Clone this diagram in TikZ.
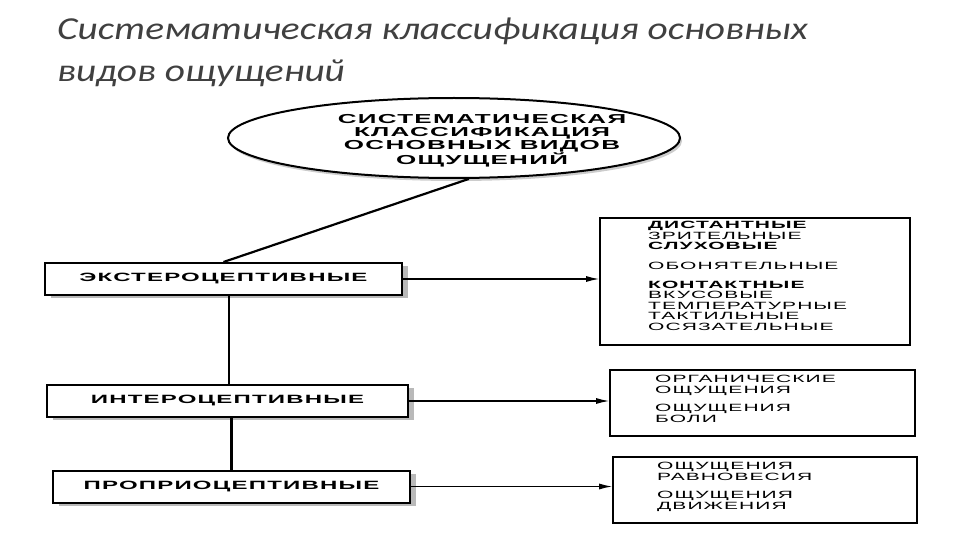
\documentclass[tikz,border=0pt]{standalone}
\usepackage{fontspec}
\setmainfont{Liberation Sans}
\newfontfamily\titlefont[FakeStretch=1.23]{Carlito}
\newfontfamily\boxfont[FakeStretch=2.0,LetterSpace=10]{Liberation Sans}
\usepackage{tikz}
\usetikzlibrary{calc, arrows.meta, shapes.geometric, shadows, positioning}

\begin{document}
\begin{tikzpicture}[x=1pt, y=-1pt,
		leftbox/.style={draw, line width=2pt, fill=white, minimum height=32pt, inner sep=0pt,
			font=\boxfont\bfseries\fontsize{12}{12}\selectfont,
			drop shadow={shadow xshift=6pt, shadow yshift=-3pt, fill=gray!55, opacity=1}},
		rightbox/.style={draw, line width=1.6pt, inner sep=0pt},
		rightlist/.style={anchor=north west, align=left, inner sep=0pt,
			font=\boxfont\fontsize{10.5}{10.5}\selectfont},
		feed/.style={line width=1.3pt, -{Latex[length=13pt,width=6pt]}},
		link/.style={line width=2.2pt}]
		\useasboundingbox (0,0) rectangle (960,540);
		% title
		\node[anchor=base west, inner sep=0pt, align=left, text=black!75,
			font=\titlefont\itshape\fontsize{32}{42}\selectfont] (title) at (57,82)
			{Систематическая классификация основных\\видов ощущений};
		% root ellipse
		\node[ellipse, draw, line width=2pt, minimum width=452pt, minimum height=80pt,
			drop shadow={shadow xshift=2pt, shadow yshift=-3pt, fill=gray!40, opacity=1},
			fill=white] (root) at (454,138) {};
		\node[align=center, inner sep=0pt, font=\boxfont\bfseries\fontsize{13}{12.6}\selectfont]
			(roottext) at (482,141) {СИСТЕМАТИЧЕСКАЯ\\КЛАССИФИКАЦИЯ\\ОСНОВНЫХ ВИДОВ\\ОЩУЩЕНИЙ};
		% left column
		\node[leftbox, minimum width=357pt] (ext) at (223.5,279) {ЭКСТЕРОЦЕПТИВНЫЕ};
		\node[leftbox, minimum width=361pt] (inter) at (227.5,401) {ИНТЕРОЦЕПТИВНЫЕ};
		\node[leftbox, minimum width=357pt] (prop) at (231.5,486.5) {ПРОПРИОЦЕПТИВНЫЕ};
		% right column
		\node[rightbox, minimum width=310pt, minimum height=127pt] (rbext) at (755,281.5) {};
		\node[rightbox, minimum width=305pt, minimum height=66pt] (rbint) at (762.5,403) {};
		\node[rightbox, minimum width=304pt, minimum height=66pt] (rbprop) at (765,490) {};
		\node[rightlist] (extlist) at (648,221) {\textbf{ДИСТАНТНЫЕ}\\ЗРИТЕЛЬНЫЕ\\\textbf{СЛУХОВЫЕ}\\[9pt]
			ОБОНЯТЕЛЬНЫЕ\\[8.5pt]\textbf{КОНТАКТНЫЕ}\\ВКУСОВЫЕ\\ТЕМПЕРАТУРНЫЕ\\ТАКТИЛЬНЫЕ\\ОСЯЗАТЕЛЬНЫЕ};
		\node[rightlist] (intlist) at (655,375) {ОРГАНИЧЕСКИЕ\\ОЩУЩЕНИЯ\\[8pt]ОЩУЩЕНИЯ\\БОЛИ};
		\node[rightlist] (proplist) at (657,462) {ОЩУЩЕНИЯ\\РАВНОВЕСИЯ\\[8pt]ОЩУЩЕНИЯ\\ДВИЖЕНИЯ};
		% connectors
		\draw[link] (root.-70) -- (ext.north);
		\draw[link] ([xshift=5.5pt]ext.south) -- ([xshift=5.5pt]ext.south |- inter.north);
		\draw[link] ([xshift=4pt]inter.south) -- ([xshift=4pt]inter.south |- prop.north);
		\draw[feed] (ext.east) -- (ext.east -| rbext.west);
		\draw[feed] (inter.east) -- (inter.east -| rbint.west);
		\draw[feed] (prop.east) -- (prop.east -| rbprop.west);
	\end{tikzpicture}
\end{document}
